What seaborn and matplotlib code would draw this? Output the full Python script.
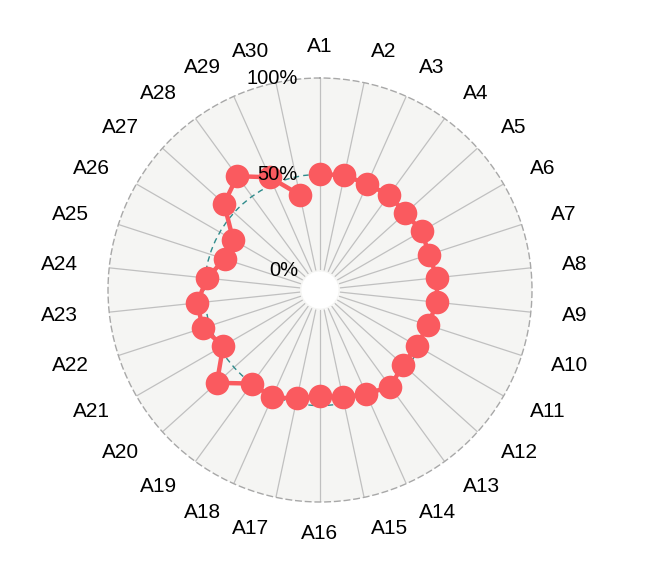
import numpy as np
import pandas as pd
import matplotlib
matplotlib.use("Agg")
import matplotlib.pyplot as plt
import matplotlib.transforms as mtransforms
import seaborn as sns

categories = [f"A{i}" for i in range(1, 31)]
values = [0.50, 0.51, 0.50, 0.51, 0.495, 0.51, 0.495, 0.51, 0.51, 0.49,
          0.48, 0.48, 0.52, 0.49, 0.47, 0.45, 0.475, 0.51, 0.50, 0.62,
          0.48, 0.54, 0.54, 0.49, 0.42, 0.42, 0.57, 0.63, 0.54, 0.405]
radial_ticks = [0.0, 0.5, 1.0]
radial_labels = ["0%", "50%", "100%"]

sns.set_style("white")
plt.rcParams['font.family'] = ['Liberation Sans', 'DejaVu Sans']
plt.rcParams['text.color'] = 'black'

fig = plt.figure(figsize=(6.65, 5.68), dpi=100)
ax = fig.add_axes([108/665, 66/568, 424/665, 424/568], projection='polar')
ax.set_theta_zero_location('N')
ax.set_theta_direction(-1)
ax.set_rorigin(-0.1)
ax.set_ylim(0, 1.0)
ax.set_facecolor('#F5F5F3')

n = len(categories)
theta = np.arange(n) * 2 * np.pi / n

ax.set_xticks(theta)
ax.set_xticklabels([])
ax.set_yticks([0.5])
ax.set_yticklabels([])
ax.xaxis.grid(True, color='#C0C0C0', lw=0.9)
ax.yaxis.grid(True, color='#2E8B8B', lw=1.0, ls=(0, (4, 3)))
ax.spines['polar'].set_color('#A8A8A8')
ax.spines['polar'].set_linestyle((0, (4, 3)))
ax.spines['polar'].set_linewidth(1.0)
ax.spines['inner'].set_color('#F5F5F3')
ax.spines['inner'].set_linewidth(1.0)
ax.tick_params(axis='both', length=0)

# inner hole white
ax.fill_between(np.linspace(0, 2*np.pi, 200), -0.1, 0.0, color='white', zorder=0.5)

df = pd.DataFrame({"theta": list(theta) + [theta[0]],
                   "value": values + [values[0]]})
sns.lineplot(data=df, x="theta", y="value", sort=False, ax=ax,
             color='#FA5A5F', lw=3.2, marker='o', markersize=17,
             markeredgewidth=0, zorder=3, clip_on=False)
ax.set_xlabel('')
ax.set_ylabel('')

# category labels
r_lab = -0.1 + 238 / (212 / 1.1)
for t, lab in zip(theta, categories):
    s, c = np.sin(t), np.cos(t)
    if s > 0.15:
        ha = 'left'
    elif s < -0.15:
        ha = 'right'
    else:
        ha = 'center'
    off = mtransforms.ScaledTranslation(s * 5 / 100, c * 5.5 / 100, fig.dpi_scale_trans)
    ax.text(t, r_lab, lab, ha=ha, va='center', fontsize=15, color='black',
            transform=ax.transData + off, clip_on=False)

# radial labels
off = mtransforms.ScaledTranslation(-22/100, 0, fig.dpi_scale_trans)
for r, lab in zip(radial_ticks, radial_labels):
    ax.text(0, r, lab, ha='right', va='center', fontsize=14.5, color='black',
            transform=ax.transData + off, zorder=5, clip_on=False)

fig.savefig('out.png', dpi=100)
